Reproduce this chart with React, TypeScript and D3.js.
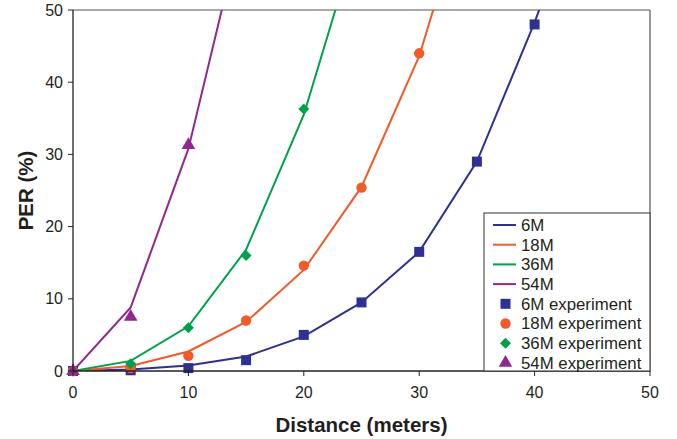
import React from "react";
import * as d3 from "d3";

const distances = [0, 5, 10, 15, 20, 25, 30, 35, 40, 45];

const model6M = [0, 0.2, 0.75, 2.0, 4.8, 9.5, 16.5, 29.0, 48.3, 70];
const model18M = [0, 0.7, 2.7, 6.8, 14.0, 25.5, 43.6, 70];
const model36M = [0, 1.4, 6.2, 16.8, 35.5, 62];
const model54M = [0, 8.8, 30.8, 64];

const exp6M = [0, 0.1, 0.4, 1.5, 5.0, 9.5, 16.5, 29.0, 48.0];
const exp18M = [0, 0.4, 2.1, 7.0, 14.6, 25.4, 44.0];
const exp36M = [0, 1.0, 6.0, 16.0, 36.3];
const exp54M = [0, 7.5, 31.3];

const xTicks = [0, 10, 20, 30, 40, 50];
const yTicks = [0, 10, 20, 30, 40, 50];

const seriesNames = ["6M", "18M", "36M", "54M"];
const colors = ["#2E3192", "#F15A29", "#00A14B", "#92278F"];
const models = [model6M, model18M, model36M, model54M];
const experiments = [exp6M, exp18M, exp36M, exp54M];
const shapes = ["square", "circle", "diamond", "triangle"];

const W = 677;
const H = 439;
const M = { left: 73, right: 650, top: 10, bottom: 371 };
const FONT = "'Liberation Sans', Arial, Helvetica, sans-serif";

const squareDiamond: d3.SymbolType = {
  draw(context, size) {
    const r = Math.sqrt(size / 2);
    context.moveTo(0, -r);
    context.lineTo(r, 0);
    context.lineTo(0, r);
    context.lineTo(-r, 0);
    context.closePath();
  },
};

function symbolPath(shape: string): string {
  const sym =
    shape === "square"
      ? d3.symbolSquare
      : shape === "circle"
      ? d3.symbolCircle
      : shape === "diamond"
      ? squareDiamond
      : d3.symbolTriangle;
  const size =
    shape === "square" ? 100 : shape === "circle" ? 85 : shape === "diamond" ? 60 : 80;
  return d3.symbol(sym, size)() as string;
}

export default function App() {
  const x = d3.scaleLinear().domain([0, 50]).range([M.left, M.right]);
  const y = d3.scaleLinear().domain([0, 50]).range([M.bottom, M.top]);
  const line = d3
    .line<number>()
    .x((_, i) => x(distances[i]))
    .y((d) => y(d));

  const legendItems = [
    ...seriesNames.map((n, i) => ({ label: n, kind: "line", i })),
    ...seriesNames.map((n, i) => ({ label: `${n} experiment`, kind: "marker", i })),
  ];
  const legend = { x0: 484, y0: 213, x1: 650, y1: 371, rowStart: 225, rowStep: 19.7 };

  return (
    <svg
      width={W}
      height={H}
      style={{ position: "absolute", left: 0, top: 0, background: "#fff" }}
      fontFamily={FONT}
    >
      <defs>
        <clipPath id="plotClip">
          <rect x={M.left} y={M.top} width={M.right - M.left} height={M.bottom - M.top} />
        </clipPath>
      </defs>

      {/* frame: top and right */}
      <line x1={M.left} x2={M.right} y1={M.top} y2={M.top} stroke="#555" strokeWidth={1.2} />
      <line x1={M.right} x2={M.right} y1={M.top} y2={M.bottom} stroke="#555" strokeWidth={1.2} />

      {/* model lines */}
      <g clipPath="url(#plotClip)">
        {models.map((m, i) => (
          <path key={i} d={line(m) as string} fill="none" stroke={colors[i]} strokeWidth={2} />
        ))}
      </g>

      {/* experiment markers */}
      <g>
        {experiments.map((e, i) =>
          e.map((v, j) => (
            <path
              key={`${i}-${j}`}
              d={symbolPath(shapes[i])}
              transform={`translate(${x(distances[j])},${y(v)})`}
              fill={colors[i]}
            />
          ))
        )}
      </g>

      {/* axes */}
      <line x1={M.left} x2={M.left} y1={M.top} y2={M.bottom} stroke="#222" strokeWidth={1.3} />
      <line x1={M.left} x2={M.right} y1={M.bottom} y2={M.bottom} stroke="#222" strokeWidth={1.3} />
      {yTicks.map((t) => (
        <g key={`y${t}`}>
          <line x1={M.left - 5} x2={M.left} y1={y(t)} y2={y(t)} stroke="#222" strokeWidth={1} />
          <text
            x={M.left - 10}
            y={y(t)}
            dy="0.35em"
            textAnchor="end"
            fontSize={16}
            fill="#231F20"
          >
            {t}
          </text>
        </g>
      ))}
      {xTicks.map((t) => (
        <g key={`x${t}`}>
          <line x1={x(t)} x2={x(t)} y1={M.bottom} y2={M.bottom + 5} stroke="#222" strokeWidth={1} />
          <text x={x(t)} y={398} textAnchor="middle" fontSize={16} fill="#231F20">
            {t}
          </text>
        </g>
      ))}

      {/* axis titles */}
      <text
        x={(M.left + M.right) / 2}
        y={432}
        textAnchor="middle"
        fontSize={20.5}
        fontWeight="bold"
        fill="#231F20"
      >
        Distance (meters)
      </text>
      <text
        transform={`translate(33,${(M.top + M.bottom) / 2}) rotate(-90)`}
        textAnchor="middle"
        fontSize={20.5}
        fontWeight="bold"
        fill="#231F20"
      >
        PER (%)
      </text>

      {/* legend */}
      <rect
        x={legend.x0}
        y={legend.y0}
        width={legend.x1 - legend.x0}
        height={legend.y1 - legend.y0}
        fill="#fff"
        stroke="#333"
        strokeWidth={1}
      />
      {legendItems.map((it, k) => {
        const cy = legend.rowStart + k * legend.rowStep;
        return (
          <g key={k}>
            {it.kind === "line" ? (
              <line x1={493} x2={516} y1={cy} y2={cy} stroke={colors[it.i]} strokeWidth={2} />
            ) : (
              <path
                d={symbolPath(shapes[it.i])}
                transform={`translate(505.5,${cy})`}
                fill={colors[it.i]}
              />
            )}
            <text x={521} y={cy} dy="0.35em" fontSize={16.8} fill="#231F20">
              {it.label}
            </text>
          </g>
        );
      })}
    </svg>
  );
}
